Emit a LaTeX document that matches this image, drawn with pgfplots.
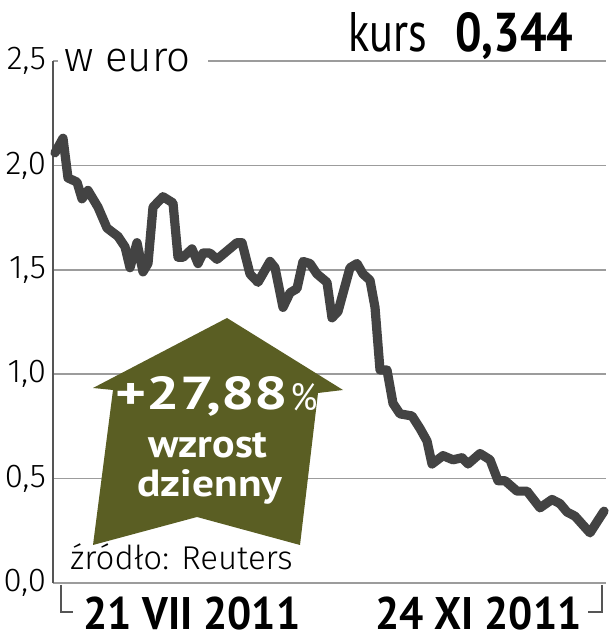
\documentclass[border=0pt]{standalone}
\usepackage{fontspec}
\setmainfont{Fira Sans}
\newfontfamily\lightf{Fira Sans Light}
\newfontfamily\ptsans{PT Sans}
\usepackage{graphicx}
\usepackage{pgfplots}
\usepackage{pgfplotstable}
\pgfplotsset{compat=1.18}
\definecolor{linegray}{HTML}{434343}
\definecolor{gridgray}{HTML}{9C9C9C}
\definecolor{axisgray}{HTML}{555555}
\definecolor{arrowgreen}{HTML}{5A5E23}

% x = position along the period (0 ... 553), y = price in euro
\pgfplotstableread{
x y
2 2.06
10 2.13
15 1.94
24 1.92
29 1.84
35 1.88
45 1.80
54 1.70
65 1.66
72 1.61
77 1.51
84 1.63
90 1.49
95 1.53
100 1.80
110 1.85
120 1.82
125 1.56
130 1.56
139 1.60
145 1.53
150 1.58
157 1.58
164 1.55
174 1.59
184 1.63
189 1.63
197 1.48
205 1.44
217 1.54
222 1.51
230 1.32
237 1.39
244 1.41
250 1.54
257 1.53
264 1.48
274 1.44
279 1.27
285 1.30
297 1.51
304 1.53
310 1.48
317 1.45
322 1.32
327 1.02
334 1.02
340 0.86
347 0.81
359 0.80
367 0.74
374 0.68
379 0.57
390 0.61
400 0.59
409 0.60
415 0.57
427 0.62
437 0.59
445 0.49
452 0.49
464 0.44
474 0.44
487 0.36
499 0.40
507 0.38
514 0.34
522 0.32
537 0.24
545 0.30
551 0.344
}\kurs

\begin{document}
\begin{tikzpicture}
\begin{axis}[
  at={(26.5pt,28.5pt)},anchor=south west,
  scale only axis,width=276.5pt,height=261pt,
  xmin=0,xmax=553,ymin=0,ymax=2.5,
  clip=false,
  axis line style={draw=none},
  xtick=\empty,
  ytick={0,0.5,1,1.5,2,2.5},
  major tick length=0pt,
  yticklabel style={font=\lightf\fontsize{16.5}{16.5}\selectfont,text=black,
    /pgf/number format/.cd,fixed,fixed zerofill,precision=1,use comma,assume math mode=true},
]
\foreach \g in {0,0.5,1,1.5,2}{
  \edef\tmp{\noexpand\draw[gridgray,line width=0.8pt] (axis cs:0,\g) -- (axis cs:553,\g);}\tmp
}
\draw[gridgray,line width=0.8pt] (axis cs:0,2.5) -- (axis cs:5,2.5);
\draw[gridgray,line width=0.8pt] (axis cs:155,2.5) -- (axis cs:553,2.5);
\draw[axisgray,line width=0.8pt] (axis cs:0,0) -- (axis cs:0,2.5);
\addplot[linegray,line width=4.6pt,line join=round,line cap=round] table {\kurs};
\end{axis}

\begin{scope}[x=0.5pt,y=-0.5pt,shift={(0pt,320pt)}]
  % arrow
  \fill[arrowgreen] (227,318) -- (343,390) -- (318,393) -- (300,545) -- (197,517)
    -- (93,545) -- (113,390) -- (93,388) -- cycle;
  \node[anchor=base west,inner sep=0,text=white,font=\ptsans\bfseries] at (115,410)
    {\resizebox{86.5pt}{16.5pt}{+27,88}};
  \node[anchor=base west,inner sep=0,text=white,font=\ptsans] at (290,411)
    {\resizebox{13.5pt}{13.5pt}{\%}};
  \node[anchor=base west,inner sep=0,text=white,font=\ptsans\bfseries] at (148,458)
    {\resizebox{59.5pt}{12.5pt}{wzrost}};
  \node[anchor=base west,inner sep=0,text=white,font=\ptsans\bfseries] at (137,497)
    {\resizebox{72.5pt}{13.5pt}{dzienny}};
  % texts
  \node[anchor=base west,inner sep=0,font=\lightf\fontsize{21}{21}\selectfont] at (64,72) {w euro};
  \node[anchor=base west,inner sep=0,font=\ptsans] at (348,52)
    {\resizebox{39.5pt}{19.5pt}{kurs}};
  \node[anchor=base west,inner sep=0,font=\ptsans\bfseries] at (455,52)
    {\resizebox{59pt}{19.5pt}{0,344}};
  \node[anchor=base west,inner sep=0,font=\lightf\fontsize{16.5}{16.5}\selectfont] at (70,570) {źródło: Reuters};
  % date bracket
  \draw[axisgray,line width=0.6pt] (61,585) -- (61,612) -- (73,612);
  \draw[axisgray,line width=0.6pt] (602,585) -- (602,612) -- (588,612);
  \node[anchor=base west,inner sep=0,font=\ptsans\bfseries] at (83,630)
    {\resizebox{108.5pt}{16.3pt}{21 VII 2011}};
  \node[anchor=base west,inner sep=0,font=\ptsans\bfseries] at (375,630)
    {\resizebox{103pt}{16.3pt}{24 XI 2011}};
\end{scope}
\pgfresetboundingbox
\path[use as bounding box] (0,0) rectangle (304pt,320pt);
\end{tikzpicture}
\end{document}
